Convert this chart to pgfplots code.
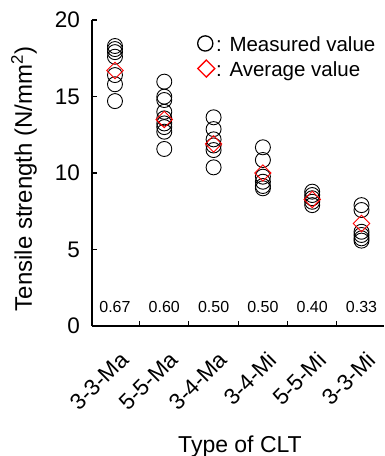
\documentclass[border=0pt]{standalone}
\usepackage{pgfplots}
\pgfplotsset{compat=1.18}
\usepackage{fontspec}
\setmainfont{Liberation Sans}
\begin{document}
\begin{tikzpicture}
\begin{axis}[
  name=ax,
  scale only axis,
  width=292pt, height=306pt,
  xmin=-0.466, xmax=5.456, ymin=0, ymax=20,
  axis x line*=bottom, axis y line*=left,
  axis line style={line width=1.1pt},
  tick align=inside,
  major tick length=5pt,
  every tick/.style={black, line width=1.1pt},
  ytick={0,5,10,15,20},
  xtick={0.5,1.5,2.5,3.5,4.5},
  xticklabels={},
  extra x ticks={0,1,2,3,4,5},
  extra x tick labels={3-3-Ma,5-5-Ma,3-4-Ma,3-4-Mi,5-5-Mi,3-3-Mi},
  extra x tick style={major tick length=0pt, tick label style={xshift=4pt, yshift=-24pt, rotate=45, anchor=north east, inner sep=0pt}},
  /pgf/number format/assume math mode=true,
  tick label style={font=\fontsize{22.5}{26}\selectfont},
  yticklabel style={anchor=east, inner sep=0pt, xshift=-12pt},
  ylabel={Tensile strength (N/mm\textsuperscript{2})},
  every axis y label/.style={at={(axis description cs:0,0.5)}, xshift=-68pt, yshift=-6pt, rotate=90, anchor=center, font=\fontsize{24}{28}\selectfont},
  xlabel={Type of CLT},
  every axis x label/.style={at={(axis description cs:0.5,0)}, anchor=base, yshift=-126pt, xshift=2pt, font=\fontsize{23}{27}\selectfont},
  clip=false,
  legend style={at={(0.359,0.951)}, anchor=north west, draw=none, fill=none,
    font=\fontsize{20.5}{24}\selectfont, row sep=4pt, inner sep=0pt,
    nodes={inner sep=0pt, text height=15pt, text depth=4pt}},
  legend cell align=left,
]
\addplot[only marks, mark=o, mark size=7.5pt, black, line width=0.9pt,
  legend image code/.code={\draw[black, line width=1.3pt] (8pt,2.5pt) circle (7.6pt); \path (17.5pt,0pt);}] table {
x y
0 18.3
0 18.1
0 17.9
0 17.6
0 16.4
0 15.8
0 14.7
1 15.97
1 14.99
1 14.77
1 14.0
1 13.57
1 13.24
1 13.0
1 12.7
1 11.57
2 13.64
2 12.87
2 12.2
2 11.8
2 11.5
2 10.37
3 11.68
3 10.85
3 9.76
3 9.43
3 9.15
3 9.0
4 8.78
4 8.56
4 8.35
4 8.12
4 7.9
5 7.9
5 7.58
5 6.16
5 5.95
5 5.73
5 5.58
};
\addlegendentry{: Measured value}
\addplot[only marks, mark=square, mark size=5.8pt, mark options={rotate=45}, red, line width=0.9pt,
  legend image code/.code={\draw[red, line width=1.3pt] (0.5pt,2.5pt) -- (9pt,11pt) -- (17.5pt,2.5pt) -- (9pt,-6pt) -- cycle; \path (18.5pt,0pt);}] table {
x y
0 16.7
1 13.5
2 11.9
3 10.0
4 8.27
5 6.7
};
\addlegendentry{: Average value}
\foreach \i/\t in {0/0.67,1/0.60,2/0.50,3/0.50,4/0.40,5/0.33}{
  \edef\tmp{\noexpand\node[font=\noexpand\fontsize{16}{18}\noexpand\selectfont] at (axis cs:\i,1.25) {\t};}
  \tmp
}
\end{axis}
\pgfresetboundingbox
\path[use as bounding box] ([xshift=-92pt,yshift=-130pt]ax.south west) rectangle ([xshift=292pt,yshift=326pt]ax.south west);
\end{tikzpicture}
\end{document}
